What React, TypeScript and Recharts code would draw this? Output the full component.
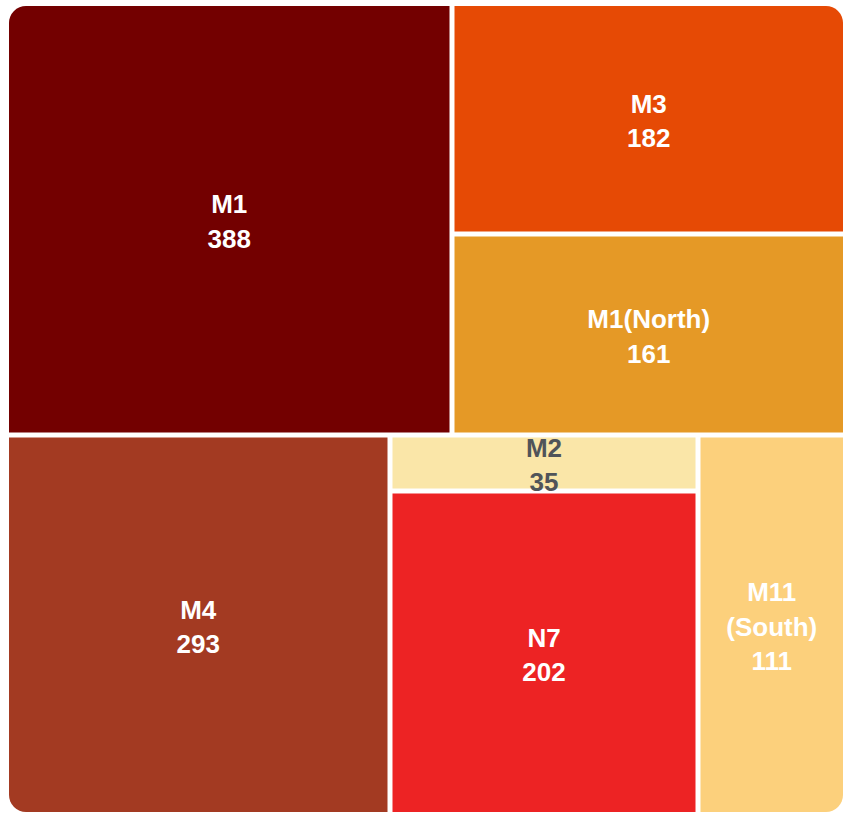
import React from 'react';
import { Treemap } from 'recharts';

// ---- data ----
const names = ['M1', 'M3', 'M1(North)', 'M4', 'M2', 'N7', 'M11 (South)'];
const values = [388, 182, 161, 293, 35, 202, 111];
const colors = ['#730000', '#E64A05', '#E59926', '#A33A22', '#FAE6A8', '#ED2324', '#FCD07C'];
const labelColors = ['#ffffff', '#ffffff', '#ffffff', '#ffffff', '#505459', '#ffffff', '#ffffff'];

// grouping of the leaves (nesting) that guides the treemap layout
type G = string | G[];
const groups: G[] = [
  ['M1', ['M3', 'M1(North)']],
  ['M4', ['M2', 'N7'], 'M11 (South)'],
];

const W = 834;
const H = 806;
const GAP = 5;
const FONT = 26;
const LINE = 34.5;

const buildNode = (g: G, key: string): any => {
  if (typeof g === 'string') {
    const i = names.indexOf(g);
    return { name: g, size: values[i], color: colors[i], labelColor: labelColors[i] };
  }
  return { name: key, children: g.map((c, j) => buildNode(c, key + '-' + j)) };
};

const tree = groups.map((g, i) => buildNode(g, 'g' + i));

const renderCell = (props: any) => {
  const { x, y, width, height, name, color, labelColor, children, size } = props;
  if ((children && children.length) || !color) return <g />;
  const h = GAP / 2;
  const x0 = x <= 0.5 ? x : x + h;
  const x1 = x + width >= W - 0.5 ? x + width : x + width - h;
  const y0 = y <= 0.5 ? y : y + h;
  const y1 = y + height >= H - 0.5 ? y + height : y + height - h;
  const est = String(name).length * FONT * 0.6;
  const nameLines = est > width - 20 && String(name).includes(' ') ? String(name).split(' ') : [String(name)];
  const lines = [...nameLines, String(size)];
  const cx = (x0 + x1) / 2;
  const cy = (y0 + y1) / 2 + 2;
  const n = lines.length;
  return (
    <g>
      <rect x={x0} y={y0} width={Math.max(0, x1 - x0)} height={Math.max(0, y1 - y0)} fill={color} stroke="none" />
      {lines.map((t, i) => (
        <text
          key={i}
          x={cx}
          y={cy + (i - (n - 1) / 2) * LINE}
          textAnchor="middle"
          dominantBaseline="central"
          fill={labelColor}
          style={{ fontFamily: '"Liberation Sans", Arial, sans-serif', fontWeight: 700, fontSize: FONT }}
        >
          {t}
        </text>
      ))}
    </g>
  );
};

export default function App() {
  return (
    <div
      style={{
        position: 'absolute',
        left: 9,
        top: 6,
        width: W,
        height: H,
        borderRadius: 17,
        overflow: 'hidden',
      }}
    >
      <Treemap
        width={W}
        height={H}
        data={tree}
        dataKey="size"
        nameKey="name"
        aspectRatio={1.135}
        isAnimationActive={false}
        content={renderCell}
      />
    </div>
  );
}
